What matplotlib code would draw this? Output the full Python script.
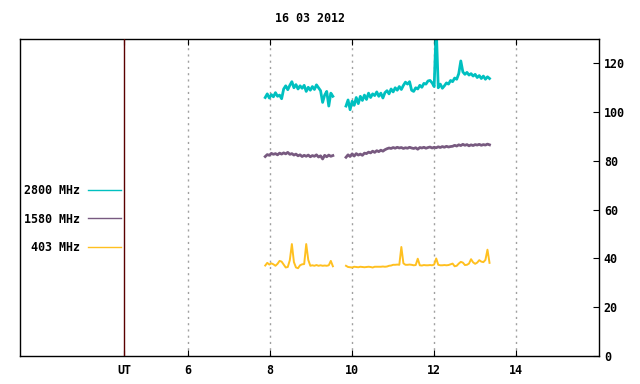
import numpy as np
from matplotlib import pyplot as plt

# radio flux, 16 03 2012, two observing runs separated by a gap
seg1_start, seg1_end = 7.88, 9.53
seg2_start, seg2_end = 9.85, 13.35

f2800_a = [106.0, 107.5, 105.8, 107.2, 106.3, 108.0, 106.5, 107.0, 105.5, 109.5,
           110.8, 109.2, 111.0, 112.5, 110.0, 111.3, 109.5, 110.8, 109.8, 111.0,
           108.5, 110.2, 109.0, 110.5, 109.3, 111.2, 110.0, 108.8, 104.0, 107.0,
           108.5, 102.5, 107.8, 106.5]
f2800_b = [102.5, 105.0, 101.0, 104.5, 102.8, 106.0, 103.5, 106.5, 104.8, 107.0,
           105.2, 107.8, 106.0, 107.5, 106.8, 108.3, 106.5, 107.8, 105.8, 108.0,
           108.8, 107.5, 109.5, 108.3, 110.0, 109.0, 110.5, 109.3, 111.0, 112.3,
           111.5, 112.5, 109.0, 108.5, 110.0, 109.5, 111.0, 110.2, 111.8, 111.5,
           112.8, 113.0, 112.0, 110.5, 135.0, 110.0, 111.5, 109.8, 110.8, 112.0,
           111.5, 113.0, 112.5, 114.0, 113.5, 115.8, 121.0, 116.5, 115.5, 116.3,
           115.2, 115.8, 114.8, 115.5, 114.2, 115.0, 113.8, 114.8, 113.5, 114.5,
           113.8]

f1580_a = [81.8, 82.6, 82.3, 83.1, 82.7, 83.0, 82.5, 83.2, 82.8, 83.3,
           82.9, 83.5, 82.7, 83.0, 82.4, 82.8, 82.1, 82.5, 81.8, 82.3,
           81.9, 82.4, 81.7, 82.2, 81.9, 82.5, 81.6, 82.1, 80.8, 82.3,
           81.7, 82.4, 81.9, 82.2]
f1580_b = [81.5, 82.5, 81.8, 82.9, 82.0, 83.0, 82.4, 82.8, 82.3, 83.2,
           83.0, 83.6, 83.3, 84.0, 83.5, 84.2, 83.8, 84.4, 84.0, 84.6,
           85.0, 85.3, 85.1, 85.5, 85.2, 85.6, 85.3, 85.5, 85.1, 85.4,
           85.2, 85.6, 85.3, 85.1, 85.4, 84.8, 85.5, 85.3, 85.6, 85.2,
           85.5, 85.7, 85.3, 85.6, 85.4, 85.8, 85.5, 85.9, 85.6, 86.0,
           85.7, 85.9, 86.0, 86.4, 86.1, 86.6, 86.3, 86.8, 86.4, 86.7,
           86.2, 86.6, 86.3, 86.7, 86.5, 86.8, 86.4, 86.7, 86.5, 86.9,
           86.6]

f403_a = [37.1, 38.2, 37.5, 38.0, 37.6, 37.0, 37.8, 39.0, 38.7, 37.5,
          36.3, 36.5, 39.3, 45.9, 38.5, 36.3, 36.0, 37.2, 37.6, 37.7,
          45.9, 39.4, 37.0, 37.2, 37.0, 37.3, 37.0, 37.2, 37.0, 37.1,
          37.0, 37.2, 39.0, 36.8]
f403_b = [37.0, 36.5, 36.4, 36.3, 36.6, 36.5, 36.4, 36.6, 36.5, 36.4,
          36.5, 36.6, 36.5, 36.3, 36.6, 36.6, 36.6, 36.6, 36.7, 36.6,
          36.7, 37.0, 37.1, 37.4, 37.4, 37.5, 37.4, 44.7, 38.0, 37.4,
          37.4, 37.5, 37.4, 37.2, 37.3, 39.9, 37.2, 37.1, 37.3, 37.2,
          37.2, 37.3, 37.2, 37.5, 40.0, 37.4, 37.2, 37.2, 37.3, 37.2,
          37.3, 37.6, 37.9, 36.8, 37.0, 37.9, 38.6, 38.3, 37.3, 37.4,
          37.9, 39.7, 38.4, 37.8, 38.3, 39.3, 38.7, 38.5, 39.4, 43.6,
          38.2]

xtick_pos = [4.44, 6, 8, 10, 12, 14]
xtick_lab = ['UT', '6', '8', '10', '12', '14']
yticks = [0, 20, 40, 60, 80, 100, 120]

series = [('2800 MHz', '#00c0c0', f2800_a, f2800_b, 2.0),
          ('1580 MHz', '#785a80', f1580_a, f1580_b, 2.0),
          ('403 MHz', '#ffc020', f403_a, f403_b, 1.4)]

plt.rcParams['font.family'] = 'DejaVu Sans Mono'
plt.rcParams['font.weight'] = 'bold'
plt.rcParams['font.size'] = 8.4

fig = plt.figure(figsize=(6.4, 3.84), dpi=100)
ax = fig.add_axes([20 / 640, 28 / 384, 579 / 640, 317 / 384])

for name, col, a, b, lw in series:
    ta = np.linspace(seg1_start, seg1_end, len(a))
    tb = np.linspace(seg2_start, seg2_end, len(b))
    ax.plot(ta, a, color=col, lw=lw, label=name)
    ax.plot(tb, b, color=col, lw=lw)

ax.set_xlim(1.9, 16.02)
ax.set_ylim(0, 130)

for x in xtick_pos[1:]:
    ax.axvline(x, color='#a0a0a0', lw=1, ls=(0, (1.5, 3)), zorder=0)
ax.axvline(xtick_pos[0], color='#5a0000', lw=1, zorder=3)

ax.set_xticks(xtick_pos)
ax.set_xticklabels(xtick_lab)
ax.set_yticks(yticks)
ax.tick_params(axis='x', direction='in', top=True, length=4.5, pad=6)
ax.tick_params(axis='y', direction='in', left=False, labelleft=False,
               right=True, labelright=True, length=4.5, pad=3.5)
for s in ax.spines.values():
    s.set_linewidth(1)

leg = ax.legend(loc='center right', bbox_to_anchor=(0.1744, 0.432), frameon=False,
                markerfirst=False, handlelength=2.8, handletextpad=0.7,
                labelspacing=1.3, borderpad=0, borderaxespad=0)
for h in leg.get_lines():
    h.set_linewidth(1)

fig.text(310 / 640, 1 - 18 / 384, '16 03 2012', ha='center', va='center')

plt.savefig('out.png', dpi=100)
